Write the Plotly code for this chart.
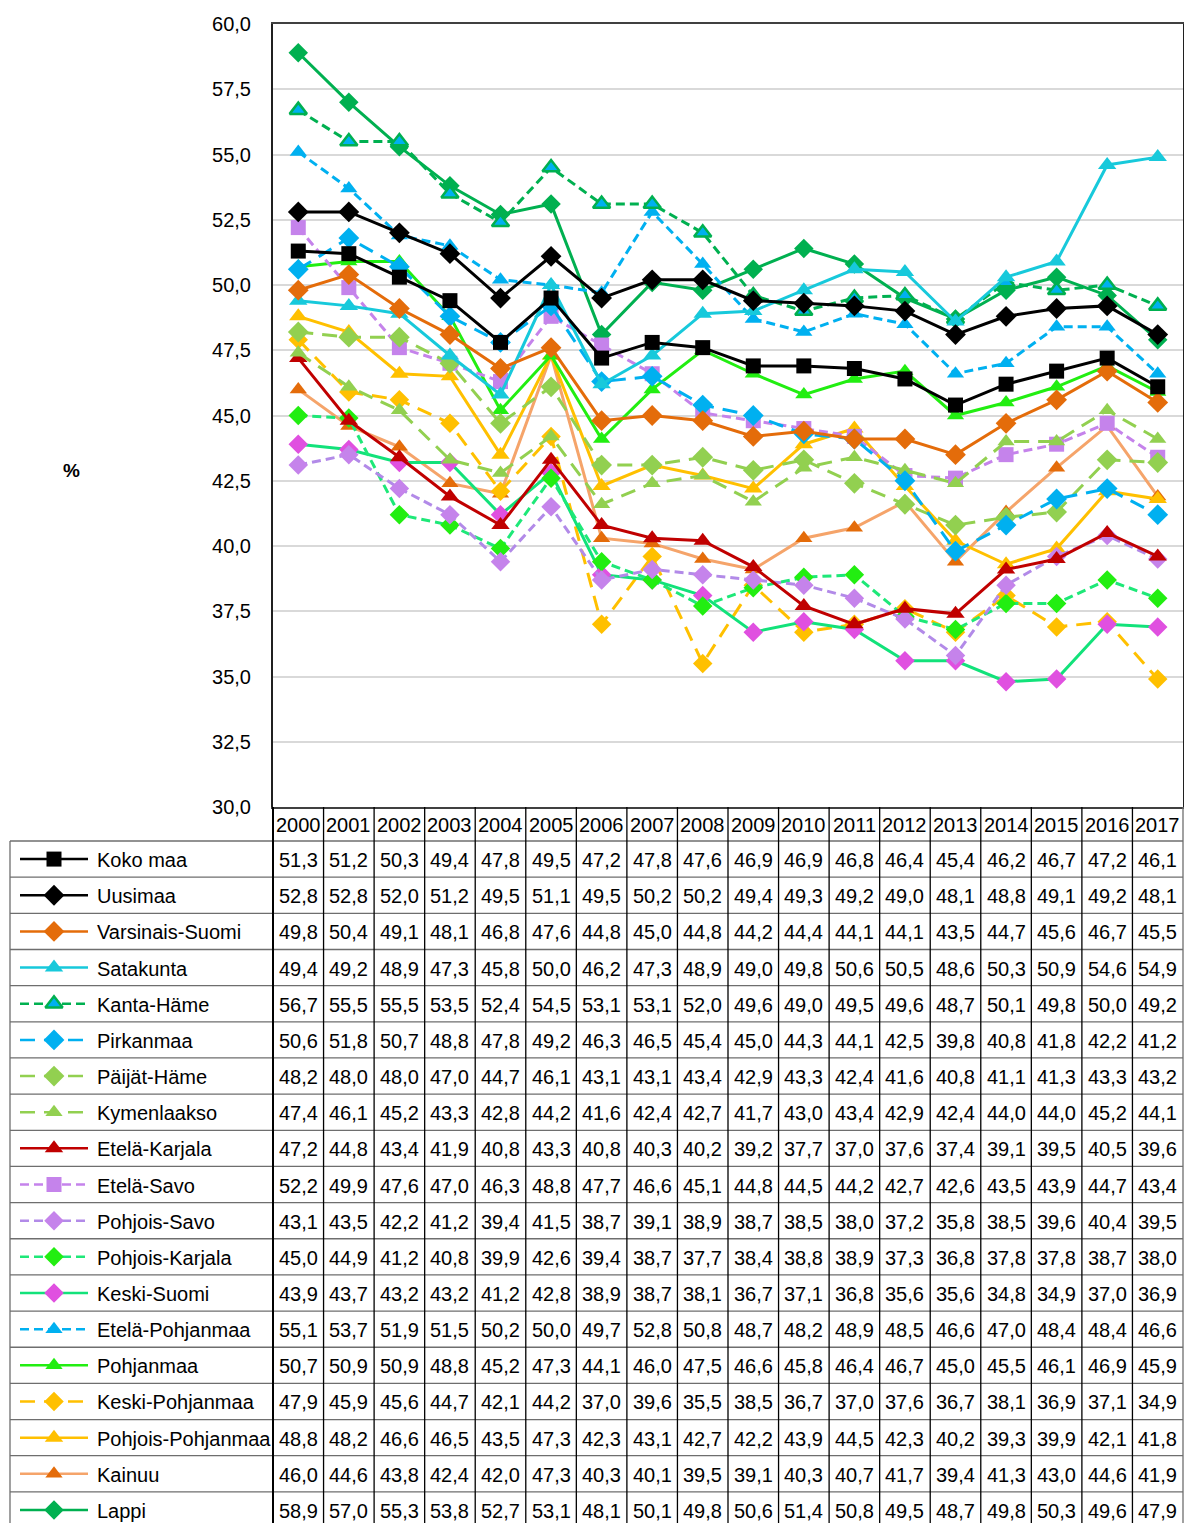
import plotly.graph_objects as go

years = [str(y) for y in range(2000, 2018)]

names = ["Koko maa", "Uusimaa", "Varsinais-Suomi", "Satakunta", "Kanta-Häme", "Pirkanmaa",
         "Päijät-Häme", "Kymenlaakso", "Etelä-Karjala", "Etelä-Savo", "Pohjois-Savo",
         "Pohjois-Karjala", "Keski-Suomi", "Etelä-Pohjanmaa", "Pohjanmaa", "Keski-Pohjanmaa",
         "Pohjois-Pohjanmaa", "Kainuu", "Lappi"]

koko_maa = [51.3, 51.2, 50.3, 49.4, 47.8, 49.5, 47.2, 47.8, 47.6, 46.9, 46.9, 46.8, 46.4, 45.4, 46.2, 46.7, 47.2, 46.1]
uusimaa = [52.8, 52.8, 52.0, 51.2, 49.5, 51.1, 49.5, 50.2, 50.2, 49.4, 49.3, 49.2, 49.0, 48.1, 48.8, 49.1, 49.2, 48.1]
varsinais_suomi = [49.8, 50.4, 49.1, 48.1, 46.8, 47.6, 44.8, 45.0, 44.8, 44.2, 44.4, 44.1, 44.1, 43.5, 44.7, 45.6, 46.7, 45.5]
satakunta = [49.4, 49.2, 48.9, 47.3, 45.8, 50.0, 46.2, 47.3, 48.9, 49.0, 49.8, 50.6, 50.5, 48.6, 50.3, 50.9, 54.6, 54.9]
kanta_hame = [56.7, 55.5, 55.5, 53.5, 52.4, 54.5, 53.1, 53.1, 52.0, 49.6, 49.0, 49.5, 49.6, 48.7, 50.1, 49.8, 50.0, 49.2]
pirkanmaa = [50.6, 51.8, 50.7, 48.8, 47.8, 49.2, 46.3, 46.5, 45.4, 45.0, 44.3, 44.1, 42.5, 39.8, 40.8, 41.8, 42.2, 41.2]
paijat_hame = [48.2, 48.0, 48.0, 47.0, 44.7, 46.1, 43.1, 43.1, 43.4, 42.9, 43.3, 42.4, 41.6, 40.8, 41.1, 41.3, 43.3, 43.2]
kymenlaakso = [47.4, 46.1, 45.2, 43.3, 42.8, 44.2, 41.6, 42.4, 42.7, 41.7, 43.0, 43.4, 42.9, 42.4, 44.0, 44.0, 45.2, 44.1]
etela_karjala = [47.2, 44.8, 43.4, 41.9, 40.8, 43.3, 40.8, 40.3, 40.2, 39.2, 37.7, 37.0, 37.6, 37.4, 39.1, 39.5, 40.5, 39.6]
etela_savo = [52.2, 49.9, 47.6, 47.0, 46.3, 48.8, 47.7, 46.6, 45.1, 44.8, 44.5, 44.2, 42.7, 42.6, 43.5, 43.9, 44.7, 43.4]
pohjois_savo = [43.1, 43.5, 42.2, 41.2, 39.4, 41.5, 38.7, 39.1, 38.9, 38.7, 38.5, 38.0, 37.2, 35.8, 38.5, 39.6, 40.4, 39.5]
pohjois_karjala = [45.0, 44.9, 41.2, 40.8, 39.9, 42.6, 39.4, 38.7, 37.7, 38.4, 38.8, 38.9, 37.3, 36.8, 37.8, 37.8, 38.7, 38.0]
keski_suomi = [43.9, 43.7, 43.2, 43.2, 41.2, 42.8, 38.9, 38.7, 38.1, 36.7, 37.1, 36.8, 35.6, 35.6, 34.8, 34.9, 37.0, 36.9]
etela_pohjanmaa = [55.1, 53.7, 51.9, 51.5, 50.2, 50.0, 49.7, 52.8, 50.8, 48.7, 48.2, 48.9, 48.5, 46.6, 47.0, 48.4, 48.4, 46.6]
pohjanmaa = [50.7, 50.9, 50.9, 48.8, 45.2, 47.3, 44.1, 46.0, 47.5, 46.6, 45.8, 46.4, 46.7, 45.0, 45.5, 46.1, 46.9, 45.9]
keski_pohjanmaa = [47.9, 45.9, 45.6, 44.7, 42.1, 44.2, 37.0, 39.6, 35.5, 38.5, 36.7, 37.0, 37.6, 36.7, 38.1, 36.9, 37.1, 34.9]
pohjois_pohjanmaa = [48.8, 48.2, 46.6, 46.5, 43.5, 47.3, 42.3, 43.1, 42.7, 42.2, 43.9, 44.5, 42.3, 40.2, 39.3, 39.9, 42.1, 41.8]
kainuu = [46.0, 44.6, 43.8, 42.4, 42.0, 47.3, 40.3, 40.1, 39.5, 39.1, 40.3, 40.7, 41.7, 39.4, 41.3, 43.0, 44.6, 41.9]
lappi = [58.9, 57.0, 55.3, 53.8, 52.7, 53.1, 48.1, 50.1, 49.8, 50.6, 51.4, 50.8, 49.5, 48.7, 49.8, 50.3, 49.6, 47.9]

series = [koko_maa, uusimaa, varsinais_suomi, satakunta, kanta_hame, pirkanmaa, paijat_hame,
          kymenlaakso, etela_karjala, etela_savo, pohjois_savo, pohjois_karjala, keski_suomi,
          etela_pohjanmaa, pohjanmaa, keski_pohjanmaa, pohjois_pohjanmaa, kainuu, lappi]

y_ticks = [30.0, 32.5, 35.0, 37.5, 40.0, 42.5, 45.0, 47.5, 50.0, 52.5, 55.0, 57.5, 60.0]
y_ticktext = ["30,0", "32,5", "35,0", "37,5", "40,0", "42,5", "45,0", "47,5", "50,0", "52,5", "55,0", "57,5", "60,0"]

SHORT = "9px,5px"
LONG = "15px,9px"
# (line colour, dash, marker symbol, marker colour, marker outline colour, marker size)
styles = [
    ("#000000", "solid", "square", "#000000", "#000000", 15),
    ("#000000", "solid", "diamond", "#000000", "#000000", 16),
    ("#E46C0A", "solid", "diamond", "#E46C0A", "#E46C0A", 16),
    ("#17C9DB", "solid", "triangle-up", "#17C9DB", "#17C9DB", 16),
    ("#00B050", SHORT, "triangle-up", "#00B0F0", "#00B050", 15),
    ("#00B0F0", LONG, "diamond", "#00B0F0", "#00B0F0", 16),
    ("#92D050", LONG, "diamond", "#92D050", "#92D050", 16),
    ("#92D050", LONG, "triangle-up", "#92D050", "#92D050", 15),
    ("#C00000", "solid", "triangle-up", "#C00000", "#C00000", 16),
    ("#C583EB", SHORT, "square", "#C583EB", "#C583EB", 15),
    ("#B28AE8", SHORT, "diamond", "#C583EB", "#C583EB", 15),
    ("#1EE878", SHORT, "diamond", "#22EE11", "#22EE11", 15),
    ("#12E27A", "solid", "diamond", "#E050E0", "#E050E0", 15),
    ("#00B0F0", SHORT, "triangle-up", "#00B0F0", "#00B0F0", 15),
    ("#22EE11", "solid", "triangle-up", "#22EE11", "#22EE11", 15),
    ("#FFC000", LONG, "diamond", "#FFC000", "#FFC000", 15),
    ("#FFC000", "solid", "triangle-up", "#FFC000", "#FFC000", 16),
    ("#F5A46A", "solid", "triangle-up", "#E46C0A", "#E46C0A", 15),
    ("#00B050", "solid", "diamond", "#00B050", "#00B050", 15),
]

W, H = 1184, 1523
PX_L, PX_R = 273, 1183
PY_T, PY_B = 24, 807
ROW_TOP = 841
ROW_H = 36.16
NCOL = len(years)
COL_W = (PX_R - PX_L) / NCOL
FONT = "Liberation Sans, Arial, sans-serif"

fig = go.Figure()

# main lines (drawn in reverse so Koko maa is on top)
order = list(range(len(names)))[::-1]
for i in order:
    lc, dash, sym, mc, mlc, ms = styles[i]
    fig.add_trace(go.Scatter(
        x=list(range(NCOL)), y=series[i], mode="lines+markers", name=names[i],
        line=dict(color=lc, width=3, dash=dash),
        marker=dict(symbol=sym, color=mc, size=ms, line=dict(color=mlc, width=2.5 if i == 4 else 0)),
        showlegend=False, xaxis="x", yaxis="y"))

# legend keys inside the table (pixel axes)
for i, nm in enumerate(names):
    lc, dash, sym, mc, mlc, ms = styles[i]
    yc = ROW_TOP + (i + 0.5) * ROW_H
    fig.add_trace(go.Scatter(
        x=[20, 88], y=[yc, yc], mode="lines",
        line=dict(color=lc, width=2.5, dash=dash), showlegend=False,
        xaxis="x2", yaxis="y2", hoverinfo="skip"))
    fig.add_trace(go.Scatter(
        x=[54], y=[yc], mode="markers",
        marker=dict(symbol=sym, color=mc, size=ms, line=dict(color=mlc, width=2.5 if i == 4 else 0)),
        showlegend=False, xaxis="x2", yaxis="y2", hoverinfo="skip"))

shapes = []
annotations = []
# horizontal table lines
for r in range(len(names) + 1):
    yy = ROW_TOP + r * ROW_H
    shapes.append(dict(type="line", xref="x2", yref="y2", x0=10, x1=PX_R, y0=yy, y1=yy,
                       line=dict(color="#6E6E6E", width=1.3)))
# left border of the legend column
shapes.append(dict(type="line", xref="x2", yref="y2", x0=10, x1=10, y0=ROW_TOP, y1=H,
                   line=dict(color="#6E6E6E", width=1.3)))
# vertical lines of the value columns
for c in range(NCOL + 1):
    xx = PX_L + c * COL_W
    shapes.append(dict(type="line", xref="x2", yref="y2", x0=xx, x1=xx, y0=PY_B, y1=H,
                       line=dict(color="#000000" if c < NCOL else "#6E6E6E", width=2 if c == 0 else 1.3)))

# header with years
for c, yr in enumerate(years):
    annotations.append(dict(xref="x2", yref="y2", x=PX_L + (c + 0.5) * COL_W, y=(PY_B + ROW_TOP) / 2 + 1,
                            text=yr, showarrow=False, font=dict(family=FONT, size=20, color="#000000")))
# names and values
for i, nm in enumerate(names):
    yc = ROW_TOP + (i + 0.5) * ROW_H + 1
    annotations.append(dict(xref="x2", yref="y2", x=95, y=yc, text=nm, showarrow=False,
                            xanchor="left", font=dict(family=FONT, size=20, color="#000000")))
    for c, v in enumerate(series[i]):
        annotations.append(dict(xref="x2", yref="y2", x=PX_L + (c + 0.5) * COL_W, y=yc,
                                text=f"{v:.1f}".replace(".", ","), showarrow=False,
                                font=dict(family=FONT, size=20, color="#000000")))

annotations.append(dict(xref="x2", yref="y2", x=71, y=470, text="<b>%</b>", showarrow=False,
                        font=dict(family=FONT, size=19, color="#000000")))

fig.update_layout(
    width=W, height=H, autosize=False,
    margin=dict(l=0, r=0, t=0, b=0, pad=0),
    paper_bgcolor="white", plot_bgcolor="rgba(0,0,0,0)",
    xaxis=dict(domain=[PX_L / W, PX_R / W], range=[-0.5, NCOL - 0.5], showticklabels=False,
               showgrid=False, zeroline=False, showline=True, linecolor="#404040", linewidth=1.5,
               mirror=True, ticks="", fixedrange=True, automargin=False),
    yaxis=dict(domain=[1 - PY_B / H, 1 - PY_T / H], range=[30, 60], tickvals=y_ticks,
               ticktext=y_ticktext, showgrid=True, gridcolor="#D9D9D9", gridwidth=2,
               zeroline=False, showline=True, linecolor="#202020", linewidth=2, mirror=True,
               ticks="", ticklabelstandoff=16, automargin=False,
               tickfont=dict(family=FONT, size=20, color="#000000"), fixedrange=True),
    xaxis2=dict(domain=[0, 1], range=[0, W], visible=False, anchor="y2", fixedrange=True, automargin=False),
    yaxis2=dict(domain=[0, 1], range=[H, 0], visible=False, anchor="x2", fixedrange=True, automargin=False),
    shapes=shapes, annotations=annotations,
)

fig.write_html("out.html", config={"displayModeBar": False},
               post_script="document.body.style.margin='0';document.body.style.overflow='hidden';")
